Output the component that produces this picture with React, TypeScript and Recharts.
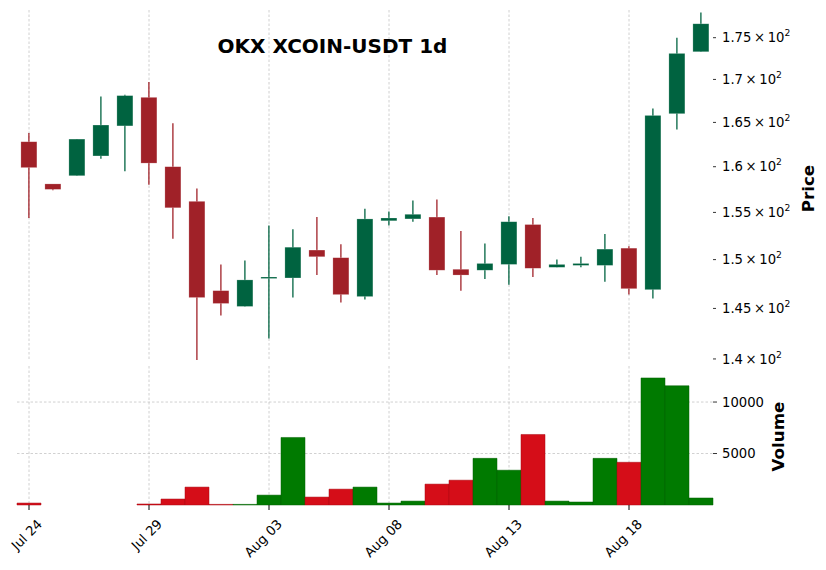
import React from 'react';
import { ComposedChart, Bar, XAxis, YAxis, CartesianGrid, Cell } from 'recharts';

const dates = [
  'Jul 24', 'Jul 25', 'Jul 26', 'Jul 27', 'Jul 28', 'Jul 29', 'Jul 30', 'Jul 31',
  'Aug 01', 'Aug 02', 'Aug 03', 'Aug 04', 'Aug 05', 'Aug 06', 'Aug 07', 'Aug 08',
  'Aug 09', 'Aug 10', 'Aug 11', 'Aug 12', 'Aug 13', 'Aug 14', 'Aug 15', 'Aug 16',
  'Aug 17', 'Aug 18', 'Aug 19', 'Aug 20', 'Aug 21',
];
const opens = [162.8, 158.1, 159.0, 161.2, 164.6, 167.9, 160.0, 156.2, 146.8, 145.2, 148.1, 148.1, 151.0, 150.2, 146.2, 154.1, 154.3, 154.5, 149.0, 148.9, 149.5, 153.7, 149.2, 149.4, 149.4, 151.2, 146.9, 166.0, 173.3];
const highs = [163.8, 158.1, 163.1, 168.0, 168.2, 169.7, 164.9, 157.6, 149.5, 149.9, 153.6, 153.2, 154.5, 151.6, 155.4, 155.1, 156.3, 156.4, 153.0, 151.7, 154.6, 154.4, 150.0, 150.3, 152.7, 151.4, 166.6, 175.0, 178.1];
const lows = [154.4, 157.4, 159.0, 160.9, 159.5, 158.0, 152.2, 139.9, 144.3, 145.2, 142.0, 146.1, 148.4, 145.6, 145.9, 153.6, 154.0, 148.4, 146.8, 148.0, 147.4, 148.2, 149.2, 149.2, 147.7, 146.4, 146.0, 164.2, 173.3];
const closes = [159.9, 157.5, 163.1, 164.7, 168.1, 160.4, 155.5, 146.1, 145.5, 147.9, 148.2, 151.3, 150.3, 146.4, 154.3, 154.4, 154.8, 148.9, 148.4, 149.6, 154.0, 149.1, 149.5, 149.6, 151.1, 147.0, 165.8, 173.1, 176.7];
const volumes = [190, 0, 0, 0, 0, 100, 580, 1740, 60, 60, 960, 6560, 770, 1540, 1740, 190, 380, 2030, 2410, 4530, 3380, 6850, 380, 290, 4530, 4150, 12340, 11580, 680];

const tickDates = ['Jul 24', 'Jul 29', 'Aug 03', 'Aug 08', 'Aug 13', 'Aug 18'];
const priceTicks = [140, 145, 150, 155, 160, 165, 170, 175];
const volumeTicks = [5000, 10000];

const UP = '#006340';
const DOWN = '#a02128';
const VOL_UP = '#007a00';
const VOL_DOWN = '#d50d18';
const FONT = '"DejaVu Sans", sans-serif';

const data = dates.map((date, i) => ({
  date,
  open: opens[i],
  high: highs[i],
  low: lows[i],
  close: closes[i],
  volume: volumes[i],
  up: closes[i] >= opens[i],
}));

const Candle = (props: any) => {
  const { x, y, width, height, payload } = props;
  const top = Math.min(y, y + height);
  const bottom = Math.max(y, y + height);
  const lh = Math.log(payload.high);
  const ll = Math.log(payload.low);
  // log scale: pixels are linear in ln(price)
  const pix = (v: number) => top + ((bottom - top) * (lh - Math.log(v))) / (lh - ll);
  const cx = x + width / 2;
  const bodyTop = pix(Math.max(payload.open, payload.close));
  const bodyBottom = pix(Math.min(payload.open, payload.close));
  const color = payload.up ? UP : DOWN;
  return (
    <g>
      <line x1={cx} x2={cx} y1={top} y2={bottom} stroke={color} strokeWidth={1.3} />
      <rect
        x={cx - 8}
        y={bodyTop}
        width={16}
        height={Math.max(bodyBottom - bodyTop, 1.5)}
        fill={color}
        stroke="#ffffff"
        strokeOpacity={0.35}
        strokeWidth={0.6}
      />
    </g>
  );
};

const PriceTick = (props: any) => {
  const { x, y, payload } = props;
  const mant = String(payload.value / 100);
  return (
    <text x={x} y={y} dy="0.36em" fontFamily={FONT} fontSize={13.2} fill="#000" textAnchor="start">
      {mant}{'\u2009×\u200910'}
      <tspan fontSize={9.2} dy={-6}>2</tspan>
    </text>
  );
};

const VolumeTick = (props: any) => {
  const { x, y, payload } = props;
  return (
    <text x={x} y={y} dy="0.36em" fontFamily={FONT} fontSize={13.2} fill="#000" textAnchor="start">
      {payload.value}
    </text>
  );
};

const DateTick = (props: any) => {
  const { x, y, payload } = props;
  const ex = x + 14;
  const ey = y + 15;
  return (
    <text
      x={ex}
      y={ey}
      transform={`rotate(-45, ${ex}, ${ey})`}
      textAnchor="end"
      fontFamily={FONT}
      fontSize={13.2}
      fill="#000"
    >
      {payload.value}
    </text>
  );
};

const AxisTitle = (text: string, dx: number, dy: number) => (props: any) => {
  const { viewBox } = props;
  const tx = viewBox.x + dx;
  const ty = viewBox.y + viewBox.height / 2 + dy;
  return (
    <text
      x={tx}
      y={ty}
      transform={`rotate(-90, ${tx}, ${ty})`}
      textAnchor="middle"
      fontFamily={FONT}
      fontWeight="bold"
      fontSize={16.7}
      fill="#000"
    >
      {text}
    </text>
  );
};

const App: React.FC = () => {
  return (
    <div style={{ position: 'absolute', left: 0, top: 0, width: 826, height: 570, background: '#fff' }}>
      <div style={{ position: 'absolute', left: 0, top: 0 }}>
        <ComposedChart width={826} height={380} data={data} margin={{ top: 10, right: 0, bottom: 19, left: 17 }}>
          <CartesianGrid horizontal={false} syncWithTicks stroke="#c4c4c4" strokeDasharray="2.5 2" strokeWidth={0.8} />
          <XAxis dataKey="date" ticks={tickDates} hide />
          <YAxis
            orientation="right"
            width={113}
            scale="log"
            domain={[139.8, 178.4]}
            allowDataOverflow
            ticks={priceTicks}
            interval={0}
            axisLine={false}
            tickSize={3}
            tickMargin={6}
            tickLine={{ stroke: '#000', strokeWidth: 0.8 }}
            tick={<PriceTick />}
            label={{ content: AxisTitle('Price', 101, 3) }}
          />
          <Bar dataKey={(d: any) => [d.low, d.high]} shape={<Candle />} isAnimationActive={false} />
        </ComposedChart>
      </div>
      <div style={{ position: 'absolute', left: 0, top: 0 }}>
        <ComposedChart width={826} height={570} data={data} margin={{ top: 366, right: 0, bottom: 0, left: 17 }} barCategoryGap={0}>
          <CartesianGrid syncWithTicks stroke="#c4c4c4" strokeDasharray="2.5 2" strokeWidth={0.8} />
          <XAxis
            dataKey="date"
            ticks={tickDates}
            interval={0}
            height={65}
            axisLine={false}
            tickSize={5}
            tickMargin={0}
            tickLine={{ stroke: '#000', strokeWidth: 1 }}
            tick={<DateTick />}
          />
          <YAxis
            orientation="right"
            width={113}
            domain={[0, 13500]}
            ticks={volumeTicks}
            interval={0}
            axisLine={false}
            tickSize={4}
            tickMargin={5}
            tickLine={{ stroke: '#000', strokeWidth: 0.8 }}
            tick={<VolumeTick />}
            label={{ content: AxisTitle('Volume', 71, 1) }}
          />
          <Bar dataKey="volume" isAnimationActive={false}>
            {data.map((d, i) => (
              <Cell key={i} fill={d.up ? VOL_UP : VOL_DOWN} stroke={d.up ? '#006000' : '#a80a12'} strokeWidth={0.5} />
            ))}
          </Bar>
        </ComposedChart>
      </div>
      <div
        style={{
          position: 'absolute',
          left: 0,
          top: 36.4,
          width: 665,
          textAlign: 'center',
          fontFamily: FONT,
          fontWeight: 'bold',
          fontSize: 20,
          lineHeight: '20px',
          color: '#000',
        }}
      >
        OKX XCOIN-USDT 1d
      </div>
    </div>
  );
};

export default App;
